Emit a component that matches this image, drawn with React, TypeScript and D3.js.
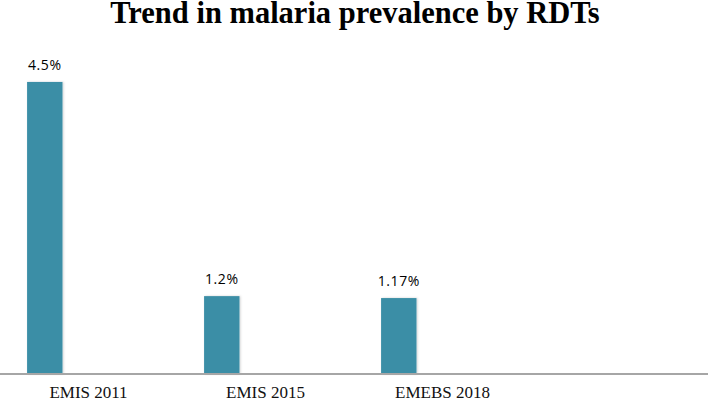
import React from "react";
import * as d3 from "d3";

const categories = ["EMIS 2011", "EMIS 2015", "EMEBS 2018"];
const prevalence = [4.5, 1.2, 1.17];
const valueLabels = ["4.5%", "1.2%", "1.17%"];
const slotCount = 4;
const yMax = 5;

const W = 708;
const H = 400;
const baseY = 374;
const topY = 49.5;

export default function App() {
  const x = d3.scaleBand<number>().domain(d3.range(slotCount)).range([0, W]).padding(0);
  const bw = x.bandwidth();
  const y = d3.scaleLinear().domain([0, yMax]).range([baseY, topY]);
  const barOffset = bw * 0.153;
  const barW = bw * 0.2;

  return (
    <svg
      width={W}
      height={H}
      style={{ position: "absolute", left: 0, top: 0, background: "#fff" }}
    >
      <defs>
        <filter id="sh" x="-20%" y="-5%" width="140%" height="110%">
          <feDropShadow dx="1" dy="0" stdDeviation="1.2" floodColor="#000" floodOpacity="0.18" />
        </filter>
      </defs>
      <text
        x={355}
        y={23}
        textAnchor="middle"
        fontFamily="'Liberation Serif', 'Times New Roman', serif"
        fontWeight="bold"
        fontSize={30.5}
        fill="#000"
      >
        Trend in malaria prevalence by RDTs
      </text>
      {prevalence.map((v, i) => (
        <g key={categories[i]}>
          <rect
            x={(x(i) as number) + barOffset}
            y={y(v)}
            width={barW}
            height={baseY - y(v)}
            fill="#3b8ea6"
            filter="url(#sh)"
          />
          <text
            x={(x(i) as number) + barOffset + barW / 2}
            y={y(v) - 12}
            textAnchor="middle"
            fontFamily="'Open Sans', 'Noto Sans', sans-serif"
            fontSize={14}
            letterSpacing={0.6}
            fill="#000"
          >
            {valueLabels[i]}
          </text>
          <text
            x={(x(i) as number) + bw / 2}
            y={398}
            textAnchor="middle"
            fontFamily="'Liberation Serif', 'Times New Roman', serif"
            fontSize={17}
            fill="#111"
          >
            {categories[i]}
          </text>
        </g>
      ))}
      <line x1={0} x2={W} y1={baseY} y2={baseY} stroke="#a6a6a6" strokeWidth={2} />
    </svg>
  );
}
